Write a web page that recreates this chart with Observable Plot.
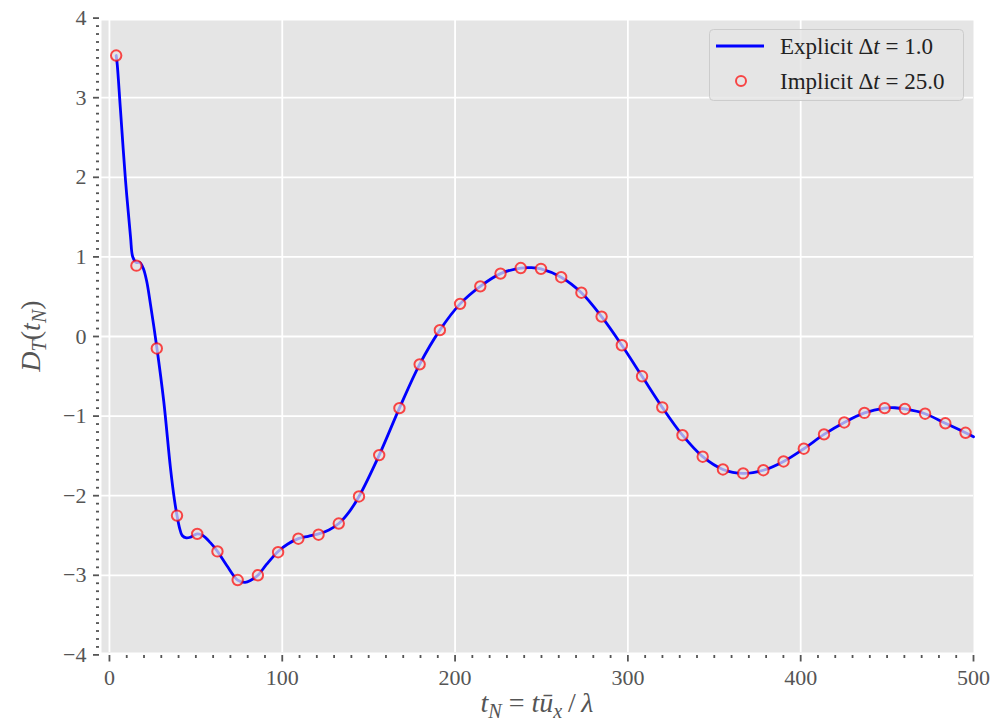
<!DOCTYPE html>
<html><head><meta charset="utf-8">
<script src="https://cdn.jsdelivr.net/npm/d3@7"></script>
<script src="https://cdn.jsdelivr.net/npm/@observablehq/plot@0.6"></script>
<style>body{margin:0;background:#fff}</style>
</head><body><div id="chart"></div>
<script>
// Explicit Δt = 1.0 (continuous curve)
const lineT = [3.9, 4.5, 6.4, 9.3, 12.2, 13.5, 15.6, 17.5, 19.5, 21.5, 23.7, 27.5, 31.4, 35.3, 37.6, 39.1, 40.5, 42.1, 44.5, 47.0, 50.8, 54.0, 58.4, 62.5, 68.0, 74.2, 78.5, 82.0, 85.9, 91.0, 97.6, 103.0, 109.3, 115.0, 121.0, 127.0, 132.7, 138.5, 144.4, 156.1, 167.8, 179.5, 191.2, 202.9, 214.6, 226.3, 238.0, 243.8, 249.7, 261.4, 273.1, 284.8, 296.5, 308.2, 319.9, 331.6, 343.3, 355.0, 366.7, 378.4, 390.1, 401.8, 413.5, 425.2, 436.9, 448.6, 454.5, 460.3, 472.0, 483.7, 495.4, 500.0];
const lineV = [3.53, 3.42, 2.84, 1.96, 1.25, 1.00, 0.93, 0.93, 0.86, 0.70, 0.41, -0.15, -0.81, -1.65, -2.05, -2.25, -2.40, -2.50, -2.53, -2.52, -2.48, -2.50, -2.59, -2.70, -2.88, -3.06, -3.09, -3.06, -3.00, -2.86, -2.70, -2.61, -2.54, -2.51, -2.48, -2.43, -2.35, -2.21, -2.01, -1.49, -0.90, -0.35, 0.08, 0.41, 0.63, 0.79, 0.86, 0.865, 0.85, 0.745, 0.55, 0.25, -0.11, -0.50, -0.89, -1.24, -1.51, -1.67, -1.72, -1.68, -1.57, -1.41, -1.23, -1.08, -0.96, -0.90, -0.895, -0.91, -0.97, -1.09, -1.21, -1.26];
// Implicit Δt = 25.0 (markers)
const markT = [3.9, 15.6, 27.4, 39.1, 50.8, 62.5, 74.2, 85.9, 97.6, 109.3, 121.0, 132.7, 144.4, 156.1, 167.8, 179.5, 191.2, 202.9, 214.6, 226.3, 238.0, 249.7, 261.4, 273.1, 284.8, 296.5, 308.2, 319.9, 331.6, 343.3, 355.0, 366.7, 378.4, 390.1, 401.8, 413.5, 425.2, 436.9, 448.6, 460.3, 472.0, 483.7, 495.4];
const markV = [3.53, 0.89, -0.15, -2.25, -2.48, -2.70, -3.06, -3.00, -2.71, -2.54, -2.49, -2.35, -2.01, -1.49, -0.90, -0.35, 0.08, 0.41, 0.63, 0.79, 0.86, 0.85, 0.745, 0.55, 0.25, -0.11, -0.50, -0.89, -1.24, -1.51, -1.67, -1.72, -1.68, -1.57, -1.41, -1.23, -1.08, -0.96, -0.90, -0.91, -0.97, -1.09, -1.21];
const xTicks = [0, 100, 200, 300, 400, 500];
const yTicks = [-4, -3, -2, -1, 0, 1, 2, 3, 4];
const xGridTicks = [0, 100, 200, 300, 400];
const yGridTicks = [-3, -2, -1, 0, 1, 2, 3];
const seriesNames = ["Explicit", "Implicit"];
const seriesDt = ["1.0", "25.0"];

const xMinor = d3.range(0, 501, 10).filter(v => v % 100 !== 0);
const yMinor = d3.range(-40, 41, 1).filter(v => v % 10 !== 0).map(v => v / 10);

const lineData = lineT.map((t, i) => ({t, v: lineV[i]}));
const markData = markT.map((t, i) => ({t, v: markV[i]}));

const FONT = "'Liberation Serif', 'DejaVu Serif', serif";
const BG = "#e5e5e5";
const TICK = "#555555";
const fmt = d => (d < 0 ? "\u2212" : "") + Math.abs(d);

const chart = Plot.plot({
  width: 1008, height: 724,
  marginLeft: 101, marginRight: 35, marginTop: 20, marginBottom: 72,
  x: {domain: [-4.6, 500], label: null},
  y: {domain: [-3.97, 3.97], label: null},
  style: {fontFamily: FONT, background: "white", overflow: "visible"},
  marks: [
    Plot.frame({fill: BG, stroke: null}),
    Plot.gridX(xGridTicks, {stroke: "white", strokeOpacity: 1, strokeWidth: 1.8}),
    Plot.gridY(yGridTicks, {stroke: "white", strokeOpacity: 1, strokeWidth: 1.8}),
    Plot.axisX(xTicks, {tickSize: 6.5, dy: 3, tickPadding: 7, fontSize: 22, color: TICK, strokeWidth: 1.8, label: null, tickFormat: fmt}),
    Plot.axisX(xMinor, {tickSize: 3, dy: 3, tickFormat: () => "", color: TICK, strokeWidth: 1.8, label: null}),
    Plot.axisY(yTicks, {tickSize: 6, dx: -2, tickPadding: 7, fontSize: 22, color: TICK, strokeWidth: 1.8, label: null, tickFormat: fmt}),
    Plot.axisY(yMinor, {tickSize: 3, dx: -2, tickFormat: () => "", color: TICK, strokeWidth: 1.8, label: null}),
    Plot.line(lineData, {x: "t", y: "v", stroke: "#0000ff", strokeWidth: 2.8, curve: "catmull-rom"}),
    Plot.dot(markData, {x: "t", y: "v", r: 5.2, fill: BG, fillOpacity: 0.7, stroke: "#ff0000", strokeOpacity: 0.7, strokeWidth: 2})
  ]
});
document.getElementById("chart").appendChild(chart);

const svg = d3.select(chart);
function richText(g, parts) {
  for (const p of parts) {
    const ts = g.append("tspan").text(p.s);
    if (p.i) ts.attr("font-style", "italic");
    if (p.sub) ts.attr("dy", 6).attr("font-size", "0.72em");
    if (p.up) ts.attr("dy", -6);
  }
}
// x label
const xl = svg.append("text").attr("x", 537).attr("y", 712).attr("text-anchor", "middle")
  .attr("font-family", FONT).attr("font-size", 28).attr("fill", TICK);
richText(xl, [{s: "t", i: 1}, {s: "N", i: 1, sub: 1}, {s: " = ", up: 1}, {s: "t", i: 1}, {s: "ū", i: 1}, {s: "x", i: 1, sub: 1}, {s: "\u2009/\u2009", up: 1}, {s: "λ", i: 1}]);
// y label
const yl = svg.append("text").attr("transform", "translate(40,336) rotate(-90)").attr("text-anchor", "middle")
  .attr("font-family", FONT).attr("font-size", 28).attr("fill", TICK);
richText(yl, [{s: "D", i: 1}, {s: "T", i: 1, sub: 1}, {s: "(", up: 1}, {s: "t", i: 1}, {s: "N", i: 1, sub: 1}, {s: ")", up: 1}]);

// legend
const lg = svg.append("g").attr("font-family", FONT).attr("font-size", 23).attr("fill", "#222").attr("text-anchor", "start");
lg.append("rect").attr("x", 709.5).attr("y", 29.5).attr("width", 254).attr("height", 71).attr("rx", 4)
  .attr("fill", BG).attr("fill-opacity", 0.8).attr("stroke", "#cccccc").attr("stroke-width", 1);
lg.append("line").attr("x1", 716).attr("x2", 764).attr("y1", 46).attr("y2", 46).attr("stroke", "#0000ff").attr("stroke-width", 2.8);
lg.append("circle").attr("cx", 741).attr("cy", 81).attr("r", 5).attr("fill", BG).attr("fill-opacity", 0.7)
  .attr("stroke", "#ff0000").attr("stroke-opacity", 0.7).attr("stroke-width", 2);
[54, 89].forEach((y, k) => {
  const t = lg.append("text").attr("x", 780).attr("y", y).attr("text-anchor", "start");
  richText(t, [{s: seriesNames[k] + " Δ"}, {s: "t", i: 1}, {s: " = " + seriesDt[k]}]);
});
</script>
</body></html>
